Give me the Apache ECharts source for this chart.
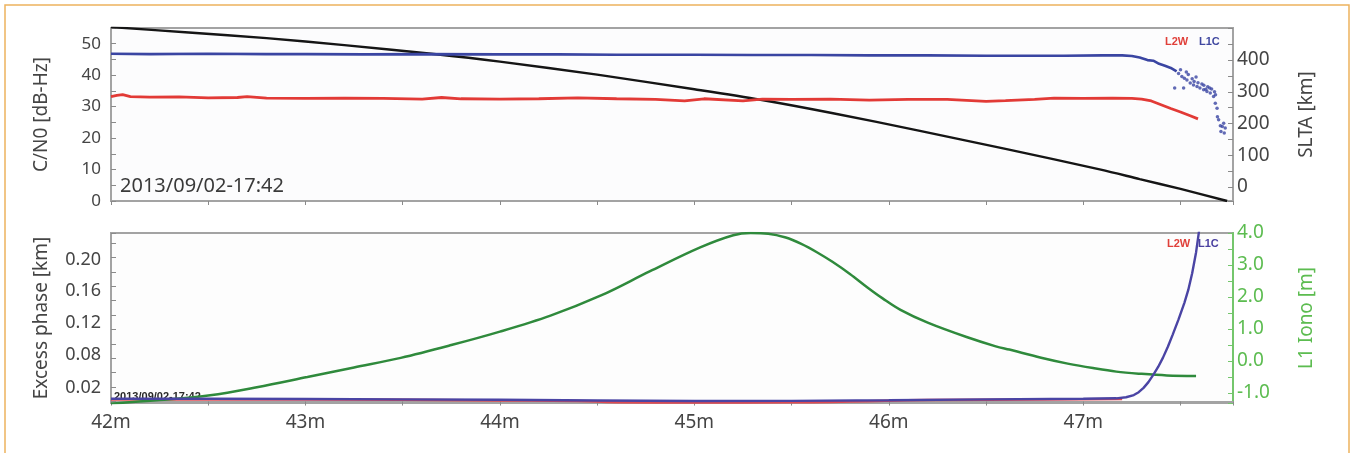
<!DOCTYPE html>
<html>
<head>
<meta charset="utf-8">
<style>
    html, body {margin: 0; padding: 0; background: #ffffff;}
    #chart {width: 1352px; height: 453px;}
</style>
<script src="https://cdn.jsdelivr.net/npm/echarts@6/dist/echarts.min.js"></script>
</head>
<body>
<div id="chart"></div>
<script>
// time in minutes after 17:00

// top panel: C/N0 [dB-Hz] (left) and SLTA [km] (right)
var l1cCno = [[42.0, 46.8], [42.2, 46.7], [42.5, 46.8], [42.8, 46.7], [43.0, 46.7], [43.3, 46.6],
    [43.6, 46.7], [44.0, 46.6], [44.3, 46.6], [44.6, 46.5], [45.0, 46.5], [45.3, 46.4], [45.6, 46.4],
    [45.9, 46.3], [46.2, 46.3], [46.5, 46.2], [46.63, 46.2], [46.64, 45.6], [46.65, 46.2], [46.9, 46.2],
    [47.1, 46.3], [47.2, 46.3], [47.25, 46.1], [47.29, 45.6], [47.33, 44.8], [47.36, 44.6], [47.39, 43.6],
    [47.42, 43.0], [47.45, 42.3], [47.48, 41.2]];
var l1cCnoDots = [[47.47, 35.9], [47.49, 40.5], [47.5, 41.7], [47.507, 39.6], [47.516, 35.9], [47.52, 39.0],
    [47.53, 41.0], [47.533, 38.5], [47.54, 40.2], [47.55, 37.5], [47.56, 38.9], [47.567, 36.9],
    [47.57, 38.0], [47.58, 39.4], [47.585, 36.4], [47.59, 37.6], [47.6, 35.9], [47.61, 37.2],
    [47.619, 35.4], [47.62, 36.8], [47.63, 35.5], [47.636, 34.8], [47.64, 36.3], [47.65, 35.9],
    [47.653, 34.3], [47.66, 35.6], [47.67, 33.2], [47.675, 34.7], [47.679, 31.1], [47.68, 33.8],
    [47.688, 29.5], [47.69, 26.8], [47.696, 25.8], [47.705, 23.9], [47.708, 22.1], [47.715, 23.7],
    [47.722, 24.7], [47.725, 21.6], [47.73, 23.2]];
var l2wCno = [[42.0, 33.2], [42.03, 33.6], [42.06, 33.8], [42.1, 33.2], [42.2, 33.0], [42.35, 33.1],
    [42.5, 32.8], [42.65, 32.9], [42.7, 33.2], [42.8, 32.7], [43.0, 32.6], [43.2, 32.7], [43.4, 32.6],
    [43.6, 32.4], [43.7, 32.9], [43.8, 32.5], [44.0, 32.4], [44.2, 32.5], [44.4, 32.8], [44.6, 32.5],
    [44.8, 32.3], [44.95, 31.8], [45.05, 32.5], [45.25, 31.8], [45.35, 32.4], [45.5, 32.3], [45.7, 32.4],
    [45.9, 32.1], [46.1, 32.3], [46.3, 32.3], [46.5, 31.7], [46.6, 31.9], [46.75, 32.3], [46.85, 32.7],
    [47.0, 32.6], [47.15, 32.7], [47.25, 32.6], [47.3, 32.4], [47.35, 31.8], [47.4, 30.6], [47.45, 29.4],
    [47.5, 28.3], [47.55, 27.1], [47.59, 26.1]];
var slta = [[42.0, 504], [42.4, 487], [42.8, 469], [43.2, 447], [43.66, 419], [44.0, 395], [44.5, 354],
    [45.0, 308], [45.34, 275], [45.7, 234], [46.16, 177], [46.6, 120], [47.09, 55], [47.29, 25],
    [47.5, -6], [47.74, -44]];

// bottom panel: excess phase [km] (left) and L1 iono [m] (right)
var l1cPhase = [[42.0, 0.004], [42.5, 0.0038], [43.0, 0.0036], [43.5, 0.003], [44.0, 0.0025],
    [44.5, 0.0015], [45.0, 0.0008], [45.5, 0.001], [46.0, 0.0018], [46.5, 0.003], [47.0, 0.004],
    [47.17, 0.0045], [47.22, 0.006], [47.26, 0.009], [47.285, 0.013], [47.31, 0.019], [47.335, 0.027],
    [47.36, 0.037], [47.385, 0.048], [47.41, 0.061], [47.435, 0.076], [47.46, 0.093], [47.49, 0.114],
    [47.52, 0.137], [47.54, 0.155], [47.56, 0.178], [47.58, 0.207], [47.595, 0.236], [47.61, 0.27]];
var l2wPhase = [[42.0, 0.003], [43.0, 0.0028], [44.0, 0.0015], [44.4, 0.0008], [44.6, -0.0008],
    [45.0, -0.0012], [45.5, -0.001], [45.8, 0.0], [46.2, 0.002], [46.8, 0.003], [47.2, 0.0035]];
var l1Iono = [[42.0, -1.33], [42.25, -1.22], [42.51, -1.07], [42.75, -0.82], [43.01, -0.5], [43.25, -0.2],
    [43.49, 0.1], [43.75, 0.5], [44.0, 0.92], [44.26, 1.42], [44.52, 2.05], [44.77, 2.8], [45.03, 3.55],
    [45.2, 3.93], [45.29, 4.0], [45.38, 3.98], [45.47, 3.86], [45.55, 3.66], [45.63, 3.4], [45.71, 3.1],
    [45.8, 2.72], [45.89, 2.3], [45.97, 1.95], [46.06, 1.6], [46.2, 1.2], [46.4, 0.75], [46.55, 0.46],
    [46.62, 0.36], [46.66, 0.3], [46.8, 0.08], [46.92, -0.08], [47.05, -0.22], [47.17, -0.33],
    [47.3, -0.4], [47.43, -0.45], [47.58, -0.47]];

// tick labels
var minuteLabels = [42, 43, 44, 45, 46, 47];
var cnoLabels = [0, 10, 20, 30, 40, 50];
var sltaLabels = [0, 100, 200, 300, 400];
var phaseLabels = ['0.20', '0.16', '0.12', '0.08', '0.02'];
var ionoLabels = [-1, 0, 1, 2, 3, 4];

var textColor = '#454545';
var frameColor = '#a3a3a3';
var greenText = '#5cbc50';
var fontFam = '"Noto Sans", "Open Sans", sans-serif';
var boldFam = '"Liberation Sans", Arial, sans-serif';

// label shift (px) to sit the phase labels where the original figure has them
var phaseShift = {'0.20': 2, '0.16': 5, '0.12': 8, '0.08': 11, '0.02': 1};
var phaseRich = {};
phaseLabels.forEach(function (t) {
    phaseRich['p' + phaseShift[t]] = {
        fontSize: 18, fontFamily: fontFam, color: textColor,
        padding: [phaseShift[t] * 2, 0, 0, 0]
    };
});

var chart = echarts.init(document.getElementById('chart'));

var xAxisBase = function (gridIndex, showLabel) {
    return {
        type: 'value', gridIndex: gridIndex, min: 42, max: 47.77, interval: 0.5,
        axisLine: {lineStyle: {color: frameColor, width: 2}},
        axisTick: {show: true, length: 4, lineStyle: {color: '#8a8a8a'}},
        splitLine: {show: false},
        axisLabel: {
            show: showLabel, margin: 10, fontSize: 19, fontFamily: fontFam, color: textColor,
            formatter: function (v) {
                return minuteLabels.indexOf(v) >= 0 ? v + 'm' : '';
            }
        }
    };
};

var yTick = {show: true, inside: true, length: 5, lineStyle: {color: '#8a8a8a'}};

var tag = function (text, left, top, color) {
    return {
        type: 'text', left: left, top: top, z: 10,
        style: {text: text, fontSize: 11, fontWeight: 'bold', fontFamily: boldFam, fill: color}
    };
};

var option = {
    animation: false,
    backgroundColor: '#ffffff',
    grid: [
        {left: 111, right: 119, top: 28, height: 173, show: true, backgroundColor: '#fcfcfd',
            borderColor: frameColor, borderWidth: 2},
        {left: 111, right: 119, top: 233, height: 170, show: true, backgroundColor: '#fdfdfd',
            borderColor: frameColor, borderWidth: 2}
    ],
    xAxis: [xAxisBase(0, false), xAxisBase(1, true)],
    yAxis: [{
        type: 'value', gridIndex: 0, min: 0, max: 55, interval: 5, position: 'left',
        name: 'C/N0 [dB-Hz]', nameLocation: 'middle', nameGap: 60, nameRotate: 90,
        nameTextStyle: {fontSize: 19, fontFamily: fontFam, color: textColor},
        axisLine: {show: true, lineStyle: {color: frameColor, width: 2}},
        axisTick: yTick, splitLine: {show: false},
        axisLabel: {
            margin: 10, fontSize: 17, fontFamily: fontFam, color: textColor,
            formatter: function (v) {
                return cnoLabels.indexOf(v) >= 0 ? String(v) : '';
            }
        }
    }, {
        type: 'value', gridIndex: 0, min: -44, max: 501, splitNumber: 11, position: 'right',
        name: 'SLTA [km]', nameLocation: 'middle', nameGap: 64, nameRotate: 90,
        nameTextStyle: {fontSize: 19, fontFamily: fontFam, color: textColor},
        axisLine: {show: true, lineStyle: {color: frameColor, width: 2}},
        axisTick: yTick, splitLine: {show: false},
        axisLabel: {
            margin: 4, fontSize: 19, fontFamily: fontFam, color: textColor,
            formatter: function (v) {
                return sltaLabels.indexOf(v) >= 0 ? String(v) : '';
            }
        }
    }, {
        type: 'value', gridIndex: 1, min: -0.002, max: 0.234, splitNumber: 12, position: 'left',
        name: 'Excess phase [km]', nameLocation: 'middle', nameGap: 60, nameRotate: 90,
        nameTextStyle: {fontSize: 19, fontFamily: fontFam, color: textColor},
        axisLine: {show: true, lineStyle: {color: frameColor, width: 2}},
        axisTick: yTick, splitLine: {show: false},
        axisLabel: {
            margin: 10, fontSize: 18, fontFamily: fontFam, color: textColor,
            rich: phaseRich,
            formatter: function (v) {
                var t = v.toFixed(2);
                if (phaseLabels.indexOf(t) < 0 || Math.abs(v - parseFloat(t)) > 1e-6) {
                    return '';
                }
                return '{p' + phaseShift[t] + '|' + t + '}';
            }
        }
    }, {
        type: 'value', gridIndex: 1, min: -1.31, max: 4.0, splitNumber: 11, position: 'right',
        name: 'L1 Iono [m]', nameLocation: 'middle', nameGap: 64, nameRotate: 90,
        nameTextStyle: {fontSize: 19, fontFamily: fontFam, color: greenText},
        axisLine: {show: true, lineStyle: {color: '#74c66c', width: 2}},
        axisTick: {show: true, inside: true, length: 5, lineStyle: {color: '#74c66c'}},
        splitLine: {show: false},
        axisLabel: {
            margin: 4, fontSize: 19, fontFamily: fontFam, color: greenText,
            formatter: function (v) {
                return ionoLabels.indexOf(v) >= 0 ? v.toFixed(1) : '';
            }
        }
    }],
    graphic: [
        {type: 'rect', silent: true, z: 100,
            shape: {x: 5, y: 5, width: 1344, height: 480},
            style: {fill: 'none', stroke: '#edb35e', lineWidth: 1.5}},
        {type: 'text', left: 120, top: 176, z: 0,
            style: {text: '2013/09/02-17:42', fontSize: 20, fontFamily: fontFam, fill: '#3a3a3a'}},
        {type: 'text', left: 114, top: 391, z: 0,
            style: {text: '2013/09/02-17:42', fontSize: 11, fontWeight: 'bold',
                fontFamily: boldFam, fill: '#2a2a2a'}},
        tag('L2W', 1165, 36, '#e0403a'),
        tag('L1C', 1199, 36, '#4048a0'),
        tag('L2W', 1167, 238, '#e0403a'),
        tag('L1C', 1198, 238, '#4a40a0')
    ],
    series: [{
        name: 'SLTA', type: 'line', xAxisIndex: 0, yAxisIndex: 1, data: slta,
        showSymbol: false, smooth: 0.3, lineStyle: {color: '#151515', width: 2.4}, z: 2
    }, {
        name: 'L2W C/N0', type: 'line', xAxisIndex: 0, yAxisIndex: 0, data: l2wCno,
        showSymbol: false, lineStyle: {color: '#e23a36', width: 2.8}, z: 3
    }, {
        name: 'L1C C/N0', type: 'line', xAxisIndex: 0, yAxisIndex: 0, data: l1cCno,
        showSymbol: false, lineStyle: {color: '#3a45a2', width: 2.6}, z: 4
    }, {
        name: 'L1C C/N0 dots', type: 'scatter', xAxisIndex: 0, yAxisIndex: 0, data: l1cCnoDots,
        symbolSize: 3.5, itemStyle: {color: '#3a45a2'}, z: 4
    }, {
        name: 'L1 Iono', type: 'line', xAxisIndex: 1, yAxisIndex: 3, data: l1Iono,
        showSymbol: false, smooth: 0.35,
        lineStyle: {color: '#2f8a3c', width: 2.5}, z: 3
    }, {
        name: 'L2W phase', type: 'line', xAxisIndex: 1, yAxisIndex: 2, data: l2wPhase,
        showSymbol: false, smooth: true, lineStyle: {color: '#e04a52', width: 2.5}, z: 2
    }, {
        name: 'L1C phase', type: 'line', xAxisIndex: 1, yAxisIndex: 2, data: l1cPhase,
        showSymbol: false, smooth: false,
        lineStyle: {color: '#4a44a4', width: 2.4}, z: 4
    }]
};

chart.setOption(option);
</script>
</body>
</html>
